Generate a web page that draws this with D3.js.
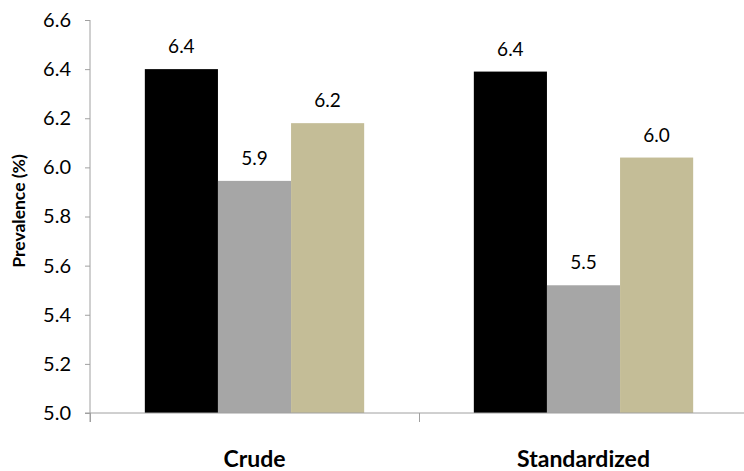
<!DOCTYPE html>
<html>
<head>
<meta charset="utf-8">
<script src="https://cdn.jsdelivr.net/npm/d3@7"></script>
<style>
  body { margin: 0; background: #fff; }
  text { font-family: Lato, "Open Sans", sans-serif; }
</style>
</head>
<body>
<div class="chart"></div>
<script>

// categories on the x axis
const categories = ["Crude", "Standardized"];
// the three bar series (no legend in the picture)
const seriesKeys = ["s1", "s2", "s3"];
const seriesColors = ["#000000", "#a6a6a6", "#c4bd97"];
const s1Values = [6.40, 6.39];
const s2Values = [5.945, 5.52];
const s3Values = [6.18, 6.04];
const yTicks = [5.0, 5.2, 5.4, 5.6, 5.8, 6.0, 6.2, 6.4, 6.6];

document.addEventListener('DOMContentLoaded', () => {

  const width = 744;
  const height = 471;
  const margin = {top: 20, left: 90, right: -4, bottom: 58};
  const axisColor = "#a0a0a0";

  // build rows from the arrays
  const data = categories.map((c, i) => ({
    cat: c,
    s1: s1Values[i],
    s2: s2Values[i],
    s3: s3Values[i]
  }));

  const svg = d3.select('.chart')
    .append('svg')
    .attr('width', width)
    .attr('height', height);

  const yScale = d3.scaleLinear()
    .domain([5.0, 6.6])
    .range([height - margin.bottom, margin.top]);

  const x0 = d3.scaleBand()
    .domain(categories)
    .range([margin.left, width - margin.right])
    .padding(0);

  const x1 = d3.scaleBand()
    .domain(seriesKeys)
    .range([0, x0.bandwidth()])
    .paddingInner(0)
    .paddingOuter(0.75);

  const color = d3.scaleOrdinal().domain(seriesKeys).range(seriesColors);

  //Y axis
  const yAxis = svg.append('g')
    .attr('transform', `translate(${margin.left},0)`)
    .call(d3.axisLeft(yScale).tickValues(yTicks).tickFormat(d3.format('.1f')).tickSize(5).tickPadding(14));

  yAxis.select('.domain')
    .attr('stroke', axisColor)
    .attr('d', `M0,${yScale(6.6)}V${yScale(5.0) + 9}`);
  yAxis.selectAll('.tick line').attr('stroke', axisColor);
  yAxis.selectAll('.tick text')
    .attr('font-size', 20)
    .attr('fill', '#000')
    .style('font-family', 'Lato, sans-serif');

  //Bars
  const groups = svg.selectAll('.group')
    .data(data)
    .enter()
    .append('g')
    .attr('class', 'group')
    .attr('transform', d => `translate(${x0(d.cat)},0)`);

  const bars = groups.selectAll('.bar')
    .data(d => seriesKeys.map(k => ({key: k, value: d[k]})))
    .enter();

  bars.append('rect')
    .attr('class', 'bar')
    .attr('x', d => x1(d.key))
    .attr('y', d => yScale(d.value))
    .attr('width', x1.bandwidth())
    .attr('height', d => yScale(5.0) - yScale(d.value))
    .attr('fill', d => color(d.key));

  //Value labels
  bars.append('text')
    .attr('x', d => x1(d.key) + x1.bandwidth() / 2)
    .attr('y', d => yScale(d.value) - 16)
    .attr('text-anchor', 'middle')
    .attr('font-size', 19)
    .text(d => d3.format('.1f')(d.value));

  //X axis line and boundary ticks
  const yBase = yScale(5.0);
  svg.append('line')
    .attr('x1', margin.left - 5)
    .attr('x2', width)
    .attr('y1', yBase)
    .attr('y2', yBase)
    .attr('stroke', axisColor);

  const bounds = categories.map(c => x0(c)).concat([x0.range()[1]]);
  svg.selectAll('.xtick')
    .data(bounds)
    .enter()
    .append('line')
    .attr('class', 'xtick')
    .attr('x1', d => d + 0.5)
    .attr('x2', d => d + 0.5)
    .attr('y1', yBase)
    .attr('y2', yBase + 9)
    .attr('stroke', axisColor);

  //Category labels
  svg.selectAll('.catlabel')
    .data(categories)
    .enter()
    .append('text')
    .attr('class', 'catlabel')
    .attr('x', d => x0(d) + x0.bandwidth() / 2)
    .attr('y', 467)
    .attr('text-anchor', 'middle')
    .attr('font-size', 23)
    .attr('font-weight', 'bold')
    .text(d => d);

  //Y axis title
  svg.append('text')
    .attr('transform', 'rotate(-90)')
    .attr('x', -211)
    .attr('y', 25)
    .attr('text-anchor', 'middle')
    .attr('font-size', 17.5)
    .attr('font-weight', 'bold')
    .text('Prevalence (%)');

});
</script>
</body>
</html>
